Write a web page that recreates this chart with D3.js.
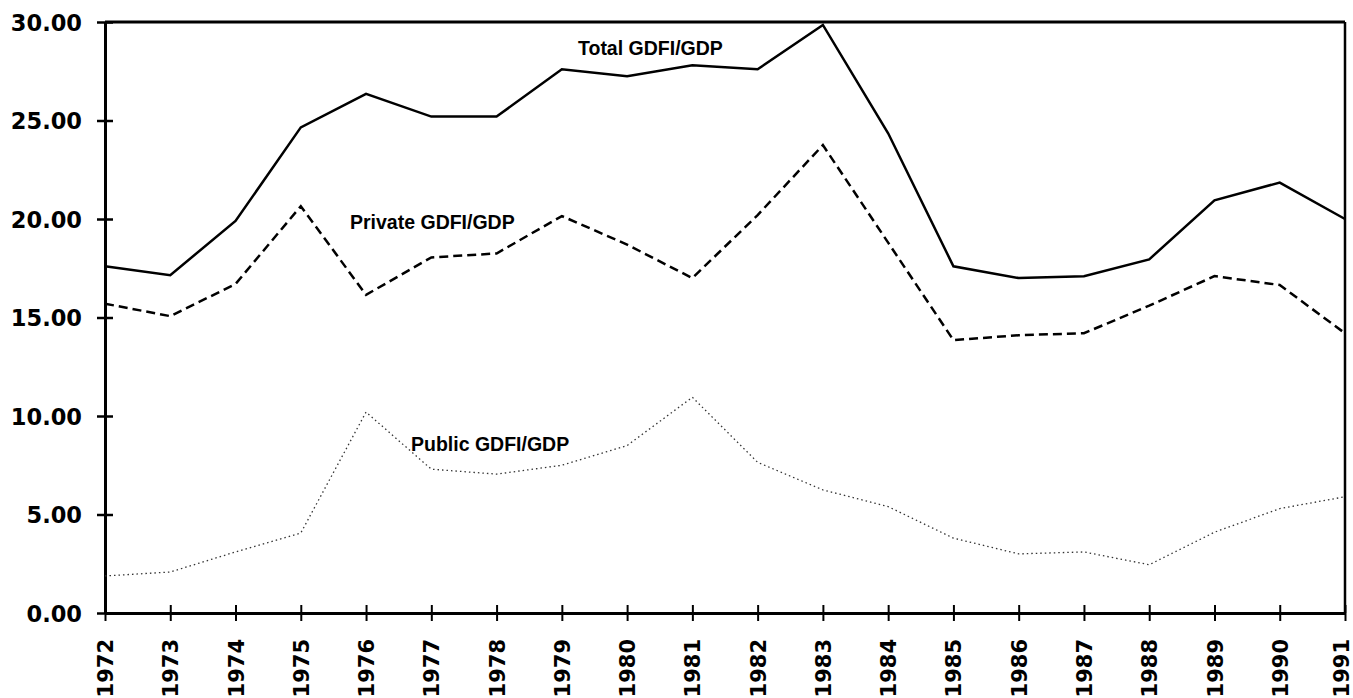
<!DOCTYPE html>
<html>
<head>
<meta charset="utf-8">
<script src="https://cdn.jsdelivr.net/npm/d3@7"></script>
<style>
  body { margin: 0; background: #fff; }
  .tick text { font-family: "DejaVu Sans", sans-serif; font-weight: bold; fill: #000; }
  .lbl { font-family: "Liberation Sans", Arial, sans-serif; font-weight: bold; font-size: 19.5px; fill: #000; }
</style>
</head>
<body>
<div id="chart"></div>
<script>
var years = [1972, 1973, 1974, 1975, 1976, 1977, 1978, 1979, 1980, 1981,
             1982, 1983, 1984, 1985, 1986, 1987, 1988, 1989, 1990, 1991];

var total = [17.6, 17.15, 19.9, 24.65, 26.35, 25.2, 25.2, 27.6, 27.25, 27.8,
             27.6, 29.85, 24.35, 17.6, 17.0, 17.1, 17.95, 20.95, 21.85, 20.0];
var priv = [15.7, 15.07, 16.7, 20.65, 16.15, 18.05, 18.25, 20.15, 18.7, 17.0,
            20.2, 23.75, 18.8, 13.85, 14.1, 14.2, 15.6, 17.1, 16.65, 14.2];
var pub = [1.88, 2.08, 3.1, 4.06, 10.2, 7.3, 7.05, 7.5, 8.5, 10.95,
           7.65, 6.25, 5.4, 3.8, 3.0, 3.1, 2.45, 4.1, 5.3, 5.9];

var yTicks = [0, 5, 10, 15, 20, 25, 30];

var width = 1353, height = 698;
var x0 = 105, x1 = 1345, yTop = 22, yBot = 613;

var svg = d3.select("#chart").append("svg")
    .attr("width", width)
    .attr("height", height);

var x = d3.scaleLinear().domain([1972, 1991]).range([x0, x1]);
var y = d3.scaleLinear().domain([0, 30]).range([yBot, yTop]);

// frame (top and right)
svg.append("line").attr("x1", x0).attr("x2", x1).attr("y1", yTop).attr("y2", yTop)
    .attr("stroke", "#000").attr("stroke-width", 3);
svg.append("line").attr("x1", x1).attr("x2", x1).attr("y1", yTop).attr("y2", yBot)
    .attr("stroke", "#000").attr("stroke-width", 2.5);

// y axis
var gy = svg.append("g")
    .attr("transform", "translate(" + x0 + ",0)")
    .call(d3.axisLeft(y).tickValues(yTicks).tickFormat(d3.format(".2f")).tickSize(0).tickPadding(23));
gy.select(".domain").attr("stroke-width", 3);
gy.selectAll(".tick text").attr("font-size", 22.5).attr("dy", "0.36em");
gy.selectAll(".tick").append("line")
    .attr("x1", -8).attr("x2", 8)
    .attr("stroke", "#000").attr("stroke-width", 2.5);

// x axis
var gx = svg.append("g")
    .attr("transform", "translate(0," + yBot + ")")
    .call(d3.axisBottom(x).tickValues(years).tickFormat(d3.format("d")).tickSize(0));
gx.select(".domain").attr("stroke-width", 3);
gx.selectAll(".tick").append("line")
    .attr("y1", -8).attr("y2", 8)
    .attr("stroke", "#000").attr("stroke-width", 2);
gx.selectAll(".tick text")
    .attr("font-size", 21)
    .attr("text-anchor", "end")
    .attr("transform", "rotate(-90)")
    .attr("x", -26)
    .attr("y", function(d) { return d === 1991 ? -4 : 0; })
    .attr("dy", "0.36em");

var line = d3.line()
    .x(function(d, i) { return x(years[i]); })
    .y(function(d) { return y(d); });

svg.append("path").datum(total)
    .attr("d", line)
    .attr("fill", "none")
    .attr("stroke", "#000")
    .attr("stroke-width", 2.5);

svg.append("path").datum(priv)
    .attr("d", line)
    .attr("fill", "none")
    .attr("stroke", "#000")
    .attr("stroke-width", 2.5)
    .attr("stroke-dasharray", "9,5");

svg.append("path").datum(pub)
    .attr("d", line)
    .attr("fill", "none")
    .attr("stroke", "#333")
    .attr("stroke-width", 1.3)
    .attr("stroke-dasharray", "1.5,3");

// series labels
svg.append("text").attr("class", "lbl").attr("x", 578).attr("y", 55).text("Total GDFI/GDP");
svg.append("text").attr("class", "lbl").attr("x", 350).attr("y", 229).text("Private GDFI/GDP");
svg.append("text").attr("class", "lbl").attr("x", 411).attr("y", 451).text("Public GDFI/GDP");
</script>
</body>
</html>
